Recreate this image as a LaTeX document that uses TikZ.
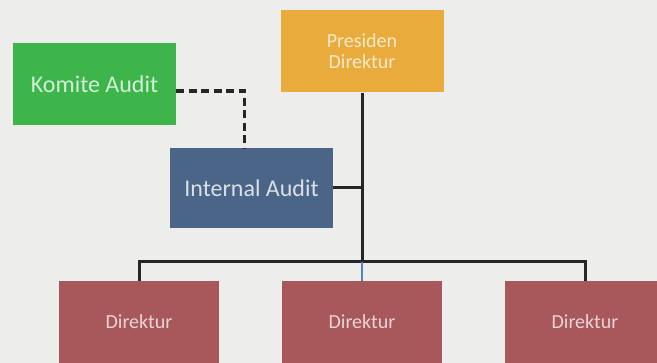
\documentclass[tikz,border=0pt]{standalone}
\usepackage{fontspec}
\setmainfont{Carlito}
\usepackage{xcolor}
\usepackage{tikz}
\definecolor{bg}{HTML}{EDEDEB}
\definecolor{presorange}{HTML}{E9AB3B}
\definecolor{komgreen}{HTML}{3DB54B}
\definecolor{iablue}{HTML}{4A6587}
\definecolor{dirred}{HTML}{A8575A}
\definecolor{tickblue}{HTML}{4D86BC}
\begin{document}
\begin{tikzpicture}[x=1pt,y=-1pt,node distance=223pt,
    box/.style={rectangle,minimum width=163pt,minimum height=82pt,inner sep=0pt,align=center,font=\fontsize{20}{23}\selectfont},
    pres node/.style={box,fill=presorange,text=white!75!presorange},
    kom node/.style={box,fill=komgreen,text=white!78!komgreen,font=\fontsize{24}{28}\selectfont},
    ia node/.style={box,fill=iablue,minimum height=80pt,text=white!80!iablue,font=\fontsize{24}{28}\selectfont},
    dir node/.style={box,fill=dirred,minimum width=160pt,text=white!75!dirred},
    conn/.style={line width=3pt,black!85},
    dash conn/.style={conn,line width=3.8pt,dash pattern=on 8pt off 4.5pt}]
    \useasboundingbox (0,0) rectangle (657,363);
    \clip (0,0) rectangle (657,363);
    \fill[bg] (0,0) rectangle (657,363);
    \node[pres node] (pres) at (362,51.5) {Presiden\\[-2pt]Direktur};
    \node[kom node] (kom) at (94.5,84) {Komite Audit};
    \node[ia node] (ia) at (251.5,188) {Internal Audit};
    \node[dir node] (d1) at (139,322) {Direktur};
    \node[dir node] (d2) [right of=d1] {Direktur};
    \node[dir node] (d3) [right of=d2] {Direktur};
    \coordinate (bus) at (d2.north |- 0,262);
    \draw[conn] (pres.south) -- (bus);
    \draw[conn] (d1.north) |- (bus) -| (d3.north);
    \draw[line width=2pt,tickblue] (bus) -- (d2.north);
    \draw[conn] (ia.east) -- (ia.east -| pres.south);
    \draw[dash conn] ([yshift=-7pt]kom.east) -| ([xshift=-7pt]ia.north);
  \end{tikzpicture}
\end{document}
